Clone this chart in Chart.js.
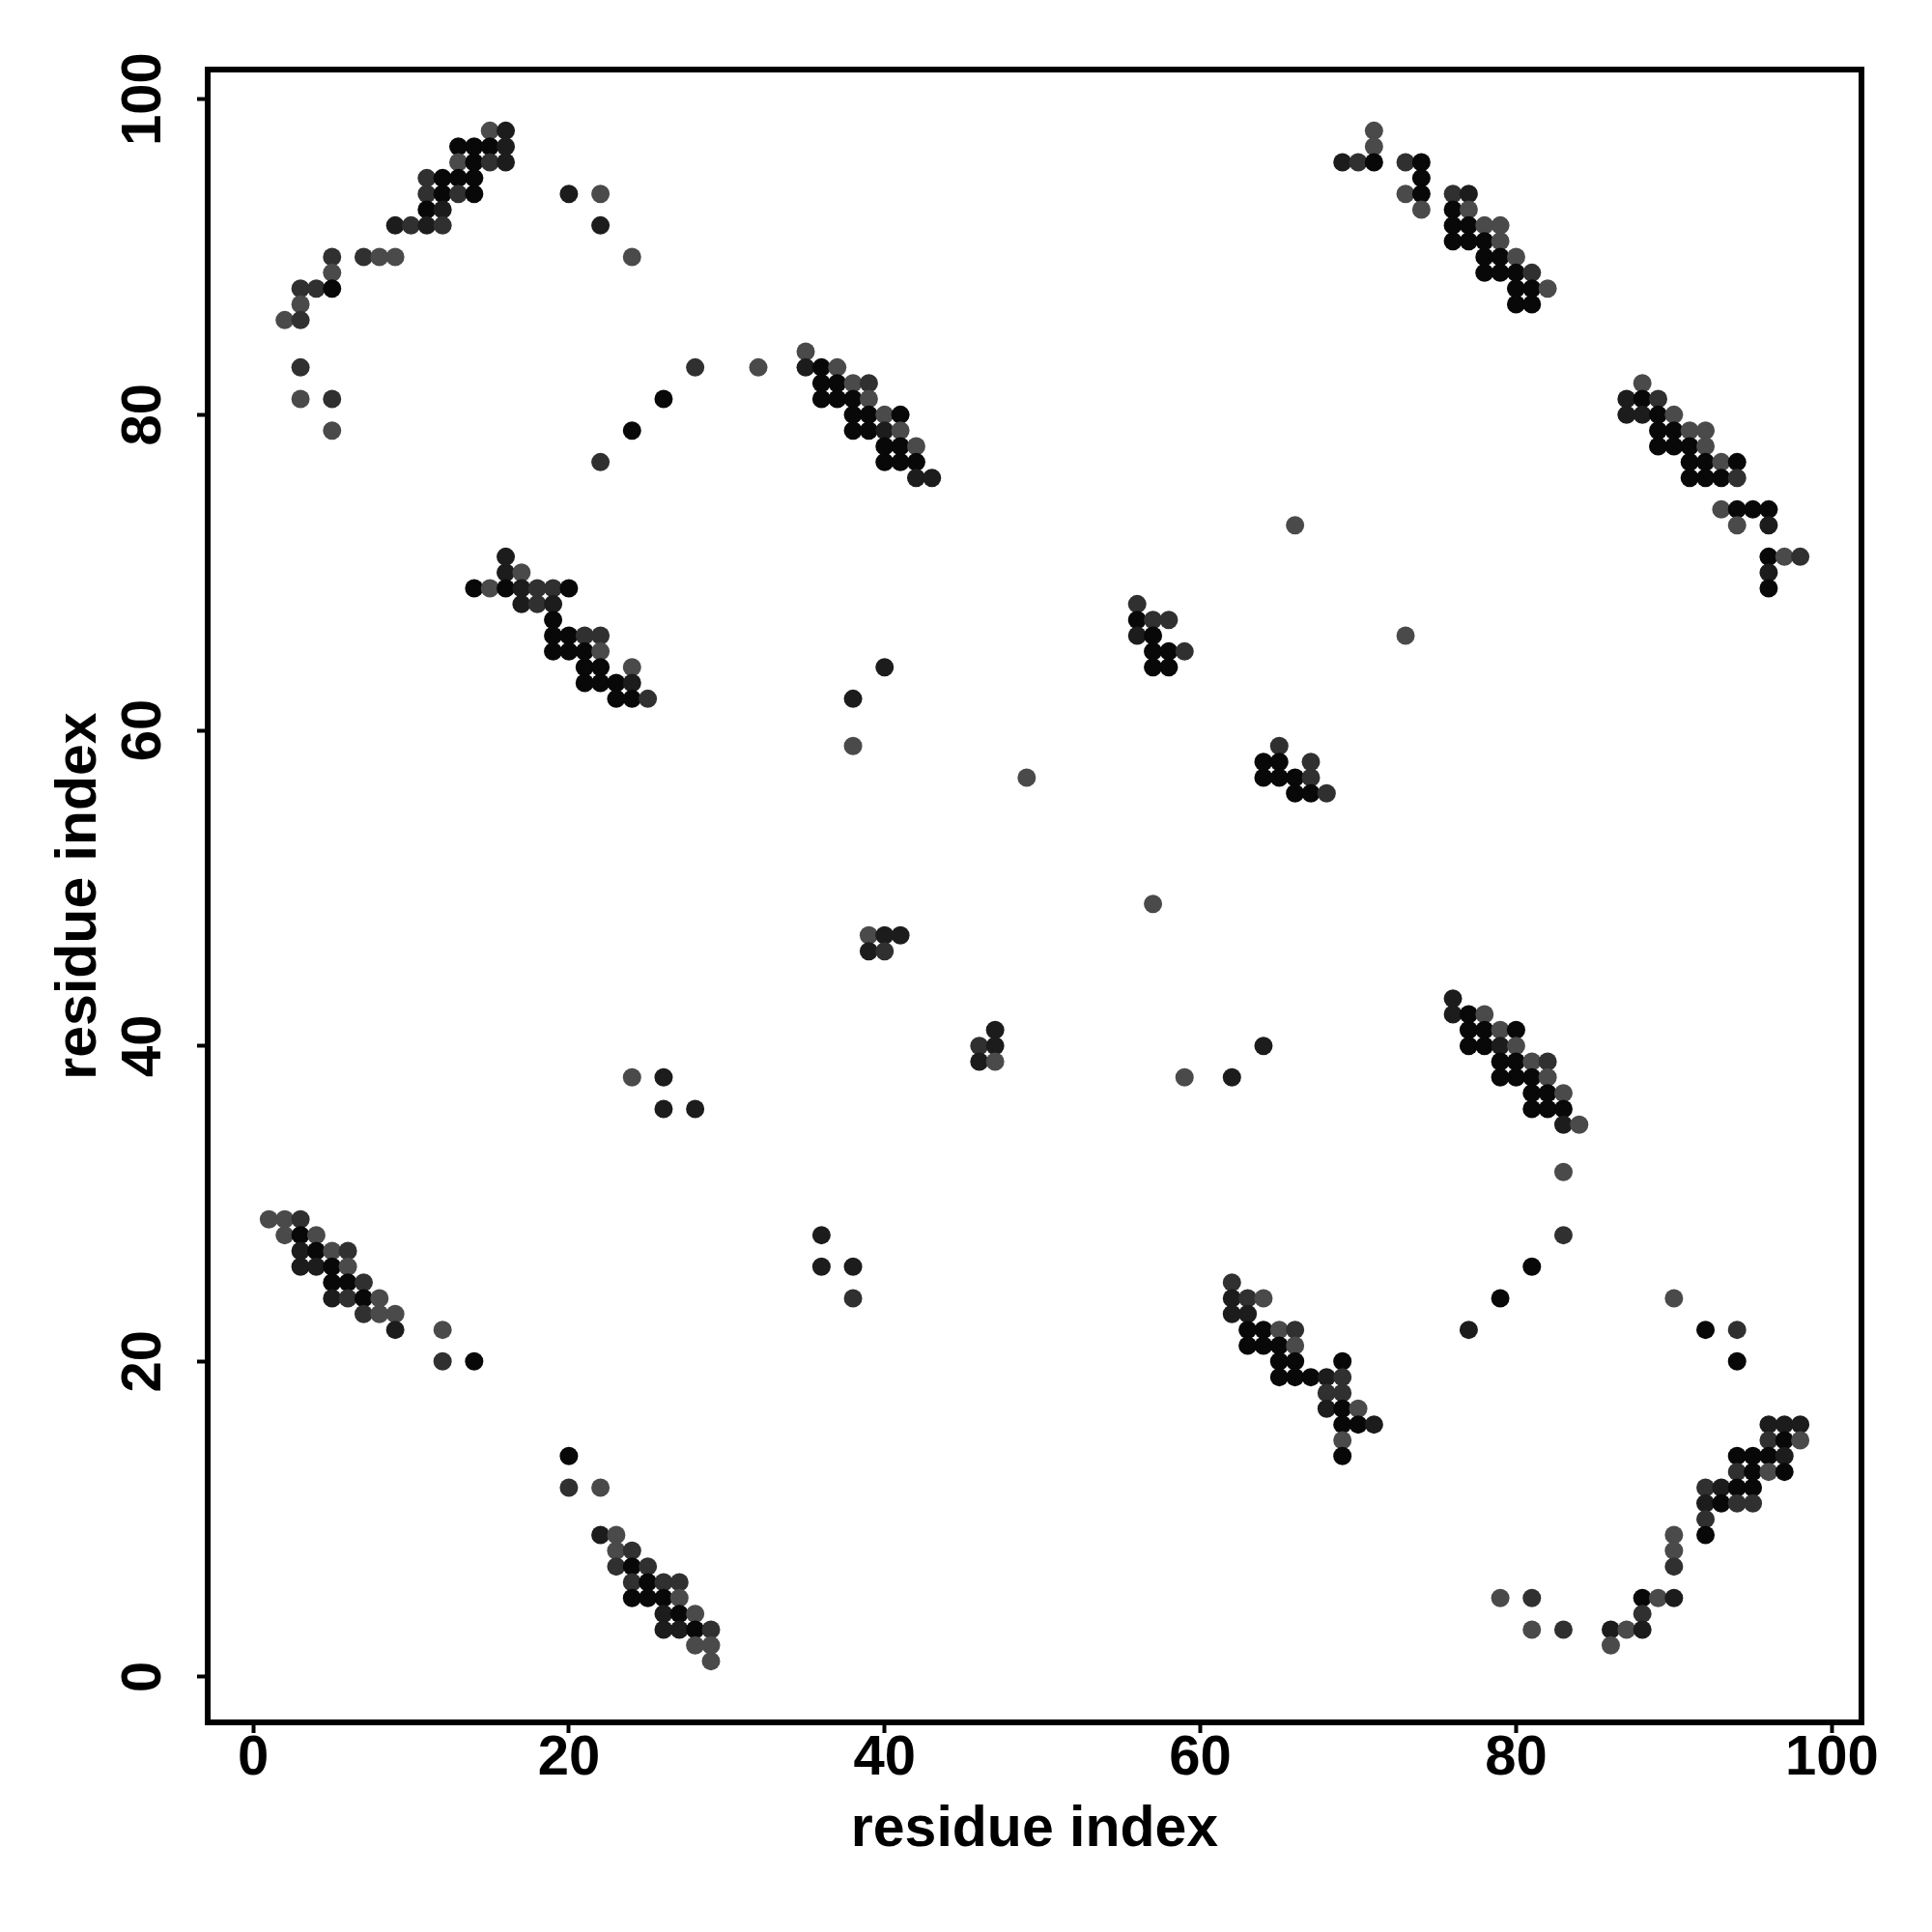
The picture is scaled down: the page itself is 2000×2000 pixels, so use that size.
<!DOCTYPE html>
<html>
<head>
<meta charset="utf-8">
<script src="https://cdn.jsdelivr.net/npm/chart.js@4.4.0/dist/chart.umd.min.js"></script>
<style>
  html, body { margin: 0; padding: 0; background: #fff; }
  #map { display: block; }
</style>
</head>
<body>
<canvas id="map" width="2000" height="2000"></canvas>
<script>
// contact map, one entry per row: residue j (y), the residues i in contact (x)
// and the contact probability of each one (read from the grey level)
var rowY = [98, 97, 96, 95, 94, 93, 92, 91, 90, 89, 88, 87, 86, 84, 83, 82, 81, 80, 79, 78, 77, 76, 74, 73, 71, 70,
            69, 68, 67, 66, 65, 64, 63, 62, 59, 58, 57, 56, 49, 47, 46, 43, 42, 41, 40, 39, 38, 37, 36, 35, 32,
            29, 28, 27, 26, 25, 24, 23, 22, 21, 20, 19, 18, 17, 16, 15, 14, 13, 12, 11, 10, 9, 8, 7, 6, 5, 4, 3, 2, 1];

var rowX = [
  [15,16,71], [13,14,15,16,71], [13,14,15,16,69,70,71,73,74], [11,12,13,14,74],
  [11,12,13,14,20,22,73,74,76,77], [11,12,74,76,77], [9,10,11,12,22,76,77,78,79], [76,77,78,79],
  [5,7,8,9,24,78,79,80], [5,78,79,80,81], [3,4,5,80,81,82], [3,80,81], [2,3], [35],
  [3,28,32,35,36,37], [36,37,38,39,88], [3,5,26,36,37,38,39,87,88,89], [38,39,40,41,87,88,89,90],
  [5,24,38,39,40,41,89,90,91,92], [40,41,42,89,90,91,92], [22,40,41,42,91,92,93,94], [42,43,91,92,93,94],
  [93,94,95,96], [66,94,96], [16,96,97,98], [16,17,96],
  [14,15,16,17,18,19,20,96], [17,18,19,56], [19,56,57,58], [19,20,21,22,56,57,73], [19,20,21,22,57,58,59],
  [21,22,24,40,57,58], [21,22,23,24], [23,24,25,38], [38,65], [64,65,67], [49,64,65,66,67], [66,67,68],
  [57], [39,40,41], [39,40], [76], [76,77,78], [47,77,78,79,80], [46,47,64,77,78,79,80],
  [46,47,79,80,81,82], [24,26,59,62,79,80,81,82], [81,82,83], [26,28,81,82,83], [83,84], [83],
  [1,2,3], [2,3,4,36,83], [3,4,5,6], [3,4,5,6,36,38,81], [5,6,7,62], [5,6,7,8,38,62,63,64,79,90],
  [7,8,9,62,63], [9,12,63,64,65,66,77,92,94], [63,64,65,66], [12,14,65,66,69,94], [65,66,67,68,69],
  [68,69], [68,69,70], [69,70,71,96,97,98], [69,96,97,98], [20,69,94,95,96,97], [94,95,96,97],
  [20,22,92,93,94,95], [92,93,94,95], [92], [22,23,90,92], [23,24,90], [23,24,25,90], [24,25,26,27],
  [24,25,26,27,79,81,88,89,90], [26,27,28,88], [26,27,28,29,81,83,86,87,88], [28,29,86], [29]
];

var rowP = [
  [.6,.88,.6], [1,1,1,.88,.6], [.6,1,.76,.88,.88,.76,1,.76,1], [.76,1,1,1,1],
  [.76,1,.76,1,.88,.6,.6,1,.76,.88], [1,.88,.6,1,.6], [.88,.76,.88,.76,.88,1,1,.6,.6], [1,1,1,.6],
  [.76,.76,.6,.6,.6,1,1,.6], [.6,1,1,1,.76], [.76,.76,1,1,1,.6], [.6,1,1], [.6,.76], [.6],
  [.76,.76,.6,.88,1,.6], [1,1,.6,.76,.6], [.6,.76,1,1,1,1,.6,.88,1,.76], [1,1,.6,1,.88,.88,1,.6],
  [.6,1,1,1,.88,.6,1,1,.6,.6], [1,1,.6,1,1,1,.6], [.76,1,1,1,1,1,.6,1], [.88,.88,1,1,1,.76],
  [.6,1,1,1], [.6,.6,.88], [.88,1,.6,.76], [.88,.6,.88],
  [1,.6,1,.88,.76,.76,1,1], [.88,.76,.88,.76], [1,1,.76,.76], [1,1,.76,.76,.88,1,.6], [1,1,1,.6,1,1,.76],
  [1,1,.6,.88,1,1], [1,1,1,.88], [1,1,.76,.88], [.6,.76], [1,1,.76], [.6,1,1,1,.76], [1,1,.76],
  [.6], [.6,.88,.88], [.88,.76], [.88], [.88,1,.6], [.88,1,1,.6,1], [.76,.88,.88,1,1,.88,.6],
  [.88,.6,1,1,.6,.76], [.6,.88,.6,.88,1,1,1,.6], [1,1,.6], [.88,.88,1,1,1], [.88,.6], [.6],
  [.6,.6,.76], [.6,1,.6,.88,.76], [.88,1,.6,.76], [.88,.88,1,.6,.88,.88,1], [1,1,.76,.76], [.88,.76,1,.6,.76,.88,.76,.6,1,.6],
  [.76,.6,.6,.88,.88], [.88,.6,1,1,.6,.76,.88,1,.76], [1,1,1,.6], [.76,1,1,1,1,1], [1,1,1,.88,.76],
  [.76,.76], [.88,1,.6], [1,1,.88,.88,.88,.88], [.6,.76,1,.6], [1,1,1,1,1,.88], [.76,1,.6,1],
  [.76,.6,.76,.88,1,1], [.88,1,.76,.76], [.76], [.88,.6,.6,1], [.6,.76,.6], [.76,1,.76,.76], [.76,1,.76,.76],
  [1,1,1,.6,.6,.76,1,.6,.88], [.88,1,.6,.76], [.88,.88,1,.76,.6,.76,.88,.6,.88], [.6,.6,.6], [.6]
];

var tickValues = [0, 20, 40, 60, 80, 100];
var axisTitle = "residue index";

// flatten rows into points, grey level from probability
var points = [];
var colors = [];
for (var r = 0; r < rowY.length; r++) {
    for (var k = 0; k < rowX[r].length; k++) {
        points.push({ x: rowX[r][k], y: rowY[r] });
        var g = Math.round(8 + (1 - rowP[r][k]) * 165);
        colors.push("rgb(" + g + "," + g + "," + g + ")");
    }
}

var font = { family: "'Liberation Sans', Arial, sans-serif", weight: "bold", size: 58 };

// R style box around the plot region
var boxPlugin = {
    id: "box",
    afterDatasetsDraw: function (chart) {
        var a = chart.chartArea;
        var ctx = chart.ctx;
        ctx.save();
        ctx.strokeStyle = "#000";
        ctx.lineWidth = 6;
        ctx.strokeRect(a.left, a.top, a.right - a.left, a.bottom - a.top);
        ctx.restore();
    }
};

function setTicks(scale) {
    scale.ticks = tickValues.map(function (v) { return { value: v }; });
}

var ctx = document.getElementById("map").getContext("2d");
var contactChart = new Chart(ctx, {
    type: "scatter",
    data: {
        datasets: [{
            data: points,
            pointRadius: 9.5,
            pointHoverRadius: 9.5,
            pointBorderWidth: 0,
            pointBackgroundColor: colors,
            pointBorderColor: colors
        }]
    },
    options: {
        responsive: false,
        devicePixelRatio: 1,
        animation: false,
        layout: { padding: { top: 72, right: 73, left: 0, bottom: 0 } },
        plugins: {
            legend: { display: false },
            tooltip: { enabled: false }
        },
        scales: {
            x: {
                type: "linear",
                min: -2.88,
                max: 101.88,
                afterBuildTicks: setTicks,
                afterFit: function (scale) { scale.height = 217; },
                border: { display: false },
                grid: { drawOnChartArea: false, tickLength: 11, tickWidth: 4, tickColor: "#000" },
                ticks: { font: font, color: "#000", padding: -8, maxRotation: 0 },
                title: { display: true, text: axisTitle, font: { family: font.family, weight: "bold", size: 59 },
                         color: "#000", padding: { top: 0, bottom: 70 } }
            },
            y: {
                type: "linear",
                min: -2.88,
                max: 101.88,
                afterBuildTicks: setTicks,
                afterFit: function (scale) { scale.width = 215; },
                border: { display: false },
                grid: { drawOnChartArea: false, tickLength: 11, tickWidth: 4, tickColor: "#000" },
                ticks: { font: font, color: "#000", padding: 6, minRotation: 90, maxRotation: 90, crossAlign: "center" },
                title: { display: true, text: axisTitle, font: { family: font.family, weight: "bold", size: 59 },
                         color: "#000", padding: { top: 47, bottom: 0 } }
            }
        }
    },
    plugins: [boxPlugin]
});
</script>
</body>
</html>
